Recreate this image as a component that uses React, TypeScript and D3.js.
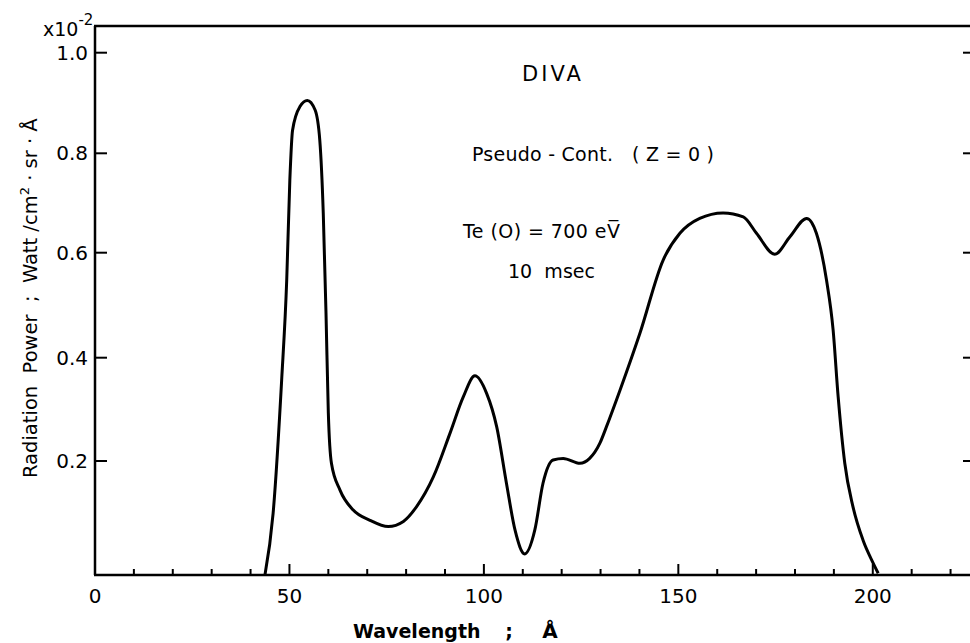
import React from "react";
import * as d3 from "d3";

const wavelength = [43.7, 45.8, 48.0, 49.3, 50.1, 50.8, 52.7, 54.6, 56.6, 57.8, 58.7, 59.4, 60.0, 60.8, 63.0, 66.4, 70.7, 75.4, 79.3, 82.7, 87.0, 91.3, 94.7, 97.7, 100.7, 103.3, 105.8, 108.0, 110.5, 113.1, 115.2, 117.8, 120.4, 124.7, 127.2, 129.8, 131.5, 135.0, 140.1, 146.1, 150.4, 155.5, 161.5, 166.7, 170.1, 174.8, 178.7, 183.0, 185.5, 188.1, 189.8, 191.1, 192.8, 194.9, 197.5, 200.1, 201.4];
const power = [0, 0.108, 0.357, 0.548, 0.746, 0.846, 0.893, 0.905, 0.886, 0.826, 0.679, 0.485, 0.293, 0.196, 0.149, 0.114, 0.096, 0.085, 0.094, 0.120, 0.172, 0.254, 0.324, 0.365, 0.331, 0.266, 0.161, 0.079, 0.037, 0.079, 0.161, 0.202, 0.205, 0.196, 0.205, 0.234, 0.266, 0.337, 0.446, 0.586, 0.639, 0.669, 0.680, 0.672, 0.639, 0.597, 0.632, 0.669, 0.639, 0.548, 0.453, 0.324, 0.196, 0.120, 0.061, 0.021, 0.003];

const xTickLabels = [0, 50, 100, 150, 200];
const xMinorTicks = [10, 20, 30, 40, 60, 70, 80, 90, 110, 120, 130, 140, 160, 170, 180, 190, 210, 220];
const yTickValues = [0.2, 0.4, 0.6, 0.8, 1.0];
const yTickLabels = ["0.2", "0.4", "0.6", "0.8", "1.0"];

const annotations = ["DIVA", "Pseudo - Cont.   ( Z = 0 )", "Te (O) = 700 eV\u0305", "10  msec"];

const FONT = "'DejaVu Sans', 'Liberation Sans', Arial, sans-serif";

export default function App() {
  const x = d3.scaleLinear().domain([0, 225]).range([95, 970]);
  const y = d3
    .scaleLinear()
    .domain([0, 0.2, 0.4, 0.6, 0.8, 1.0])
    .range([575, 461, 357.7, 252.7, 153.3, 52.7]);

  const pts = wavelength.map((w, i) => [w, power[i]] as [number, number]);
  const line = d3
    .line<[number, number]>()
    .x((d) => x(d[0]))
    .y((d) => y(d[1]))
    .curve(d3.curveMonotoneX);

  const x0 = x(0);
  const xEnd = 970;
  const yBottom = 575;
  const yTop = 26;
  const pre = { whiteSpace: "pre" as const };

  return (
    <svg
      width={970}
      height={643}
      viewBox="0 0 970 643"
      style={{ position: "absolute", left: 0, top: 0, background: "#fff" }}
      fontFamily={FONT}
    >
      <rect x={0} y={0} width={970} height={643} fill="#fff" />
      {/* frame */}
      <line x1={x0} y1={yTop} x2={x0} y2={yBottom} stroke="#000" strokeWidth={2.5} />
      <line x1={x0 - 1} y1={yBottom} x2={xEnd} y2={yBottom} stroke="#000" strokeWidth={2.5} />
      <line x1={x0 - 1} y1={yTop} x2={xEnd} y2={yTop} stroke="#000" strokeWidth={2.5} />

      {/* x ticks */}
      {xTickLabels.filter((v) => v > 0).map((v) => (
        <line key={"xm" + v} x1={x(v)} x2={x(v)} y1={yBottom} y2={yBottom - 11} stroke="#000" strokeWidth={2} />
      ))}
      {xMinorTicks.map((v) => (
        <line key={"xn" + v} x1={x(v)} x2={x(v)} y1={yBottom} y2={yBottom - 6} stroke="#000" strokeWidth={2} />
      ))}
      {xTickLabels.map((v) => (
        <text key={"xl" + v} x={x(v)} y={603} textAnchor="middle" fontSize={20}>
          {String(v)}
        </text>
      ))}

      {/* y ticks */}
      {yTickValues.map((v, i) => (
        <g key={"y" + v}>
          <line x1={x0} x2={x0 + 12} y1={y(v)} y2={y(v)} stroke="#000" strokeWidth={2} />
          <line x1={xEnd - 7} x2={xEnd} y1={y(v)} y2={y(v)} stroke="#000" strokeWidth={2} />
          <text x={88} y={y(v) + 7} textAnchor="end" fontSize={20}>
            {yTickLabels[i]}
          </text>
        </g>
      ))}

      {/* exponent */}
      <text x={43} y={36} fontSize={19}>
        x10
        <tspan dy={-11} fontSize={15}>-2</tspan>
      </text>

      {/* axis titles */}
      <text x={353} y={638} fontSize={19} fontWeight="bold" style={pre}>
        Wavelength
      </text>
      <text x={509} y={638} fontSize={19} fontWeight="bold" textAnchor="middle">;</text>
      <text x={550} y={638} fontSize={20} fontWeight="bold" textAnchor="middle">Å</text>

      <text transform="translate(37,478) rotate(-90)" x={0} y={0} fontSize={19.5} style={pre}>
        Radiation  Power  ;  Watt /cm
        <tspan dy={-8} fontSize={13}>2</tspan>
        <tspan dy={8}> · sr · Å</tspan>
      </text>

      {/* annotations */}
      <text x={553} y={81} textAnchor="middle" fontSize={21} letterSpacing={3}>
        {annotations[0]}
      </text>
      <text x={472} y={161} fontSize={19} style={pre} textLength={242} lengthAdjust="spacing">
        {annotations[1]}
      </text>
      <text x={463} y={238} fontSize={19} style={pre} textLength={157} lengthAdjust="spacing">
        {annotations[2]}
      </text>
      <text x={508} y={278} fontSize={19} style={pre} textLength={87} lengthAdjust="spacing">
        {annotations[3]}
      </text>

      {/* curve */}
      <path d={line(pts) || ""} fill="none" stroke="#000" strokeWidth={3} strokeLinejoin="round" />
    </svg>
  );
}
